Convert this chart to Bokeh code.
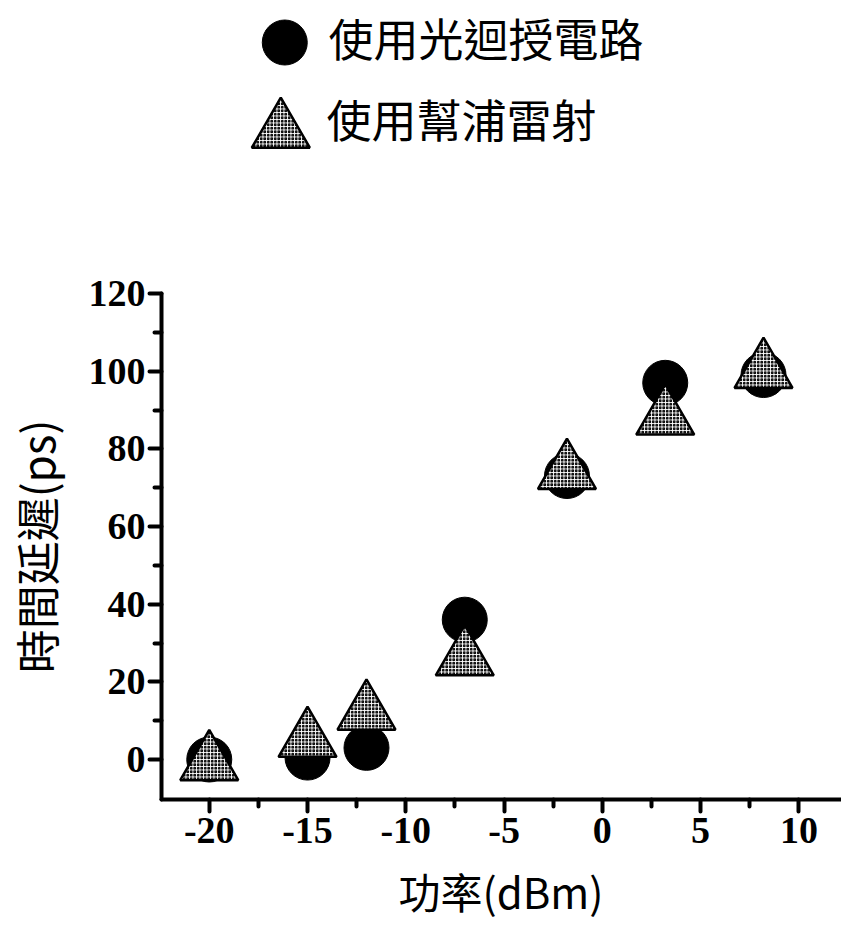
from bokeh.plotting import figure
from bokeh.layouts import column
from bokeh.models import Range1d, FixedTicker
from bokeh.core.properties import value
from bokeh.embed import file_html
from bokeh.resources import INLINE

# ---- data ----
power = [-20, -15, -12, -7, -1.8, 3.2, 8.2]          # dBm
delay_feedback = [0, 0.5, 3, 36, 73, 97, 99]         # ps, 使用光迴授電路
delay_pump = [-1, 5, 12, 26, 74, 88, 100]            # ps, 使用幫浦雷射
series_labels = ["使用光迴授電路", "使用幫浦雷射"]
x_ticks = [-20, -15, -10, -5, 0, 5, 10]
x_minor = [-17.5, -12.5, -7.5, -2.5, 2.5, 7.5]
y_ticks = [0, 20, 40, 60, 80, 100, 120]
y_minor = [10, 30, 50, 70, 90, 110]

W = 841
TOP_H = 220                   # legend strip
MAIN_H = 705
FL, FR = 157, 840
FT, FB = 73, 579              # frame top / bottom inside main figure
XS = 19.77                    # px per dBm

circle_style = dict(marker="circle", size=45, fill_color="black", line_color="black")
tri_style = dict(marker="triangle", size=58, fill_color="white", line_color="black",
                 line_width=2.5, hatch_pattern="o", hatch_color="black",
                 hatch_scale=3.5, hatch_weight=1.3)

# ---------- main chart ----------
p = figure(width=W, height=MAIN_H, output_backend="svg", toolbar_location=None,
           x_range=Range1d(-22.43, -22.43 + (FR - FL) / XS),
           y_range=Range1d(-10.3, 120),
           min_border_left=FL, min_border_right=W - FR,
           min_border_top=FT, min_border_bottom=MAIN_H - FB)
p.outline_line_color = None
p.grid.visible = False
p.background_fill_color = "white"
p.border_fill_color = "white"

for ax in (p.xaxis[0], p.yaxis[0]):
    ax.axis_line_width = 4
    ax.axis_line_cap = "round"
    ax.major_tick_line_width = 4
    ax.minor_tick_line_width = 4
    ax.major_tick_line_cap = "round"
    ax.minor_tick_line_cap = "round"
    ax.major_tick_in = 0
    ax.minor_tick_in = 0
    ax.major_tick_out = 12
    ax.minor_tick_out = 7
    ax.major_label_text_font = "Liberation Serif"
    ax.major_label_text_font_style = "bold"
    ax.major_label_text_font_size = "38px"
    ax.major_label_text_color = "black"
    ax.axis_label_text_font = "Noto Sans CJK TC"
    ax.axis_label_text_font_style = "normal"
    ax.axis_label_text_color = "black"

p.xaxis.ticker = FixedTicker(ticks=x_ticks, minor_ticks=x_minor)
p.yaxis.ticker = FixedTicker(ticks=y_ticks, minor_ticks=y_minor)
p.xaxis.major_label_overrides = {t: str(t) for t in x_ticks}
p.xaxis.major_label_standoff = 6
p.yaxis.major_label_standoff = 4
p.xaxis.axis_label = "功率(dBm)"
p.yaxis.axis_label = "時間延遲(ps)"
p.xaxis.axis_label_text_font_size = "42px"
p.yaxis.axis_label_text_font_size = "44px"
p.xaxis.axis_label_standoff = 14
p.yaxis.axis_label_standoff = 18

p.scatter(power, delay_feedback, **circle_style)
p.scatter(power, delay_pump, **tri_style)

# ---------- legend strip (frame aligned with the chart's frame) ----------
top = figure(width=W, height=TOP_H, output_backend="svg", toolbar_location=None,
             x_axis_type=None, y_axis_type=None,
             x_range=Range1d(0, FR - FL), y_range=Range1d(TOP_H, 0),
             min_border_left=FL, min_border_right=W - FR,
             min_border_top=0, min_border_bottom=0)
top.outline_line_color = None
top.grid.visible = False
top.background_fill_color = "white"
top.border_fill_color = "white"

key_x, key_y = [124, 120], [42, 130.5]      # legend key positions (px in strip)
lab_x, lab_y = [168, 166], [37, 118]        # legend label positions (px in strip)
top.scatter(key_x[0], key_y[0], **circle_style)
top.scatter(key_x[1], key_y[1], **tri_style)
top.text(x=lab_x, y=lab_y, text=series_labels,
         text_font=value("Noto Sans CJK TC"), text_font_size="45px",
         text_color="black", text_align="left", text_baseline="middle")

layout = column(top, p, spacing=0)
open("out.html", "w").write(file_html(layout, INLINE))
